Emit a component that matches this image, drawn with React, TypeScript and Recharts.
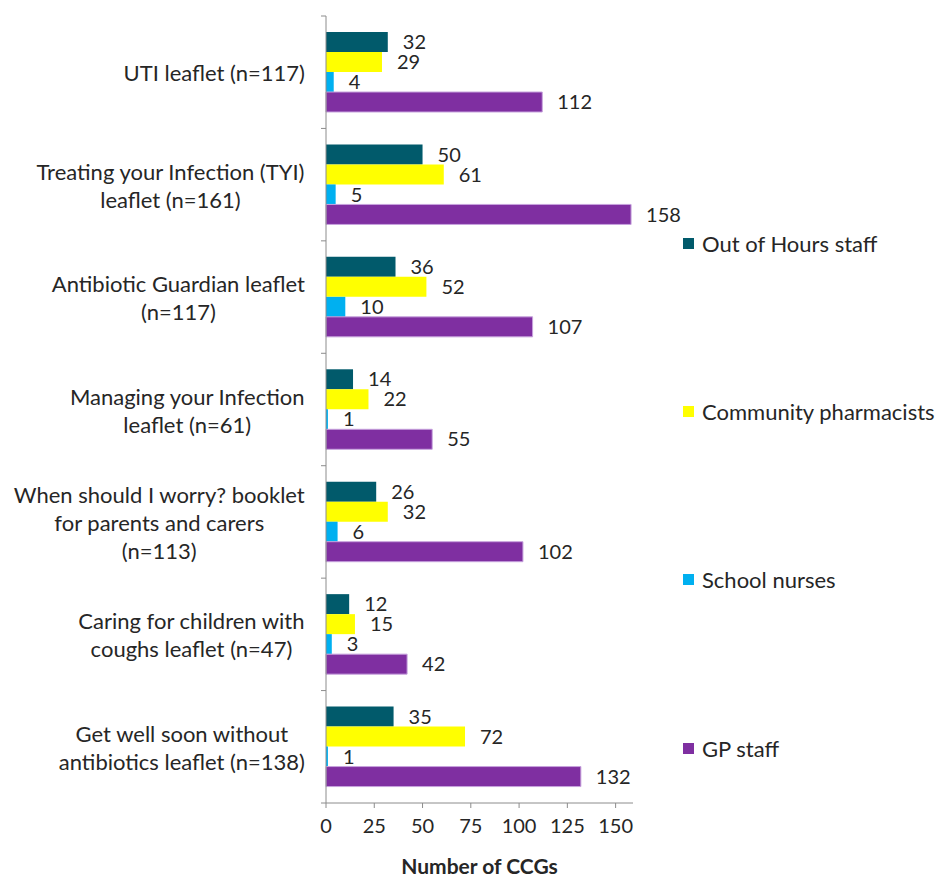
import React from 'react';
import { BarChart, Bar, XAxis, YAxis, LabelList } from 'recharts';

const categories = [
  'UTI leaflet (n=117)',
  'Treating your Infection (TYI)\nleaflet (n=161)',
  'Antibiotic Guardian leaflet\n(n=117)',
  'Managing your Infection\nleaflet (n=61)',
  'When should I worry? booklet\nfor parents and carers\n(n=113)',
  'Caring for children with\ncoughs leaflet (n=47)',
  'Get well soon without\nantibiotics leaflet (n=138)',
];
const outOfHours = [32, 50, 36, 14, 26, 12, 35];
const pharmacists = [29, 61, 52, 22, 32, 15, 72];
const schoolNurses = [4, 5, 10, 1, 6, 3, 1];
const gpStaff = [112, 158, 107, 55, 102, 42, 132];
const xTicks = [0, 25, 50, 75, 100, 125, 150];

const series = [
  { key: 'ooh', name: 'Out of Hours staff', color: '#015A6B', stroke: undefined as string | undefined },
  { key: 'pharm', name: 'Community pharmacists', color: '#FFFF00', stroke: undefined as string | undefined },
  { key: 'school', name: 'School nurses', color: '#00B0F0', stroke: undefined as string | undefined },
  { key: 'gp', name: 'GP staff', color: '#7F2FA1', stroke: '#C7A3DD' as string | undefined },
];

const data = categories.map((c, i) => ({
  name: c,
  ooh: outOfHours[i],
  pharm: pharmacists[i],
  school: schoolNurses[i],
  gp: gpStaff[i],
}));

const FONT = 'Lato, "Liberation Sans", sans-serif';
const FS = 22;
const NUM_FS = 20;
const TEXT = '#262626';
const AXIS = '#8c8c8c';
const PLOT_LEFT = 326;
const PLOT_TOP = 16;
const PLOT_BOTTOM = 803;
const BAND = (PLOT_BOTTOM - PLOT_TOP) / categories.length;
const LINE_H = 28;
const LABEL_RIGHT = 305;

let ctx: CanvasRenderingContext2D | null = null;
function measure(text: string): number {
  if (!ctx) {
    const c = document.createElement('canvas');
    ctx = c.getContext('2d');
  }
  if (!ctx) return text.length * FS * 0.45;
  ctx.font = `${FS}px ${FONT}`;
  return ctx.measureText(text).width;
}

const CategoryTick = (props: any) => {
  const { y, payload, index } = props;
  const lines: string[] = String(payload.value).split('\n');
  const maxW = Math.max(...lines.map(measure));
  const cx = LABEL_RIGHT - maxW / 2;
  const startY = y - ((lines.length - 1) * LINE_H) / 2;
  const top = y - BAND / 2;
  return (
    <g>
      <line x1={PLOT_LEFT - 5} x2={PLOT_LEFT} y1={top} y2={top} stroke={AXIS} />
      {index === categories.length - 1 && (
        <line x1={PLOT_LEFT - 5} x2={PLOT_LEFT} y1={top + BAND} y2={top + BAND} stroke={AXIS} />
      )}
      <text x={cx} y={startY} textAnchor="middle" fill={TEXT} fontSize={FS} fontFamily={FONT} dominantBaseline="central">
        {lines.map((l, i) => (
          <tspan key={i} x={cx} dy={i === 0 ? 0 : LINE_H}>
            {l}
          </tspan>
        ))}
      </text>
    </g>
  );
};

const labelStyle = { fill: TEXT, fontSize: NUM_FS, fontFamily: FONT };

export default function App() {
  return (
    <div style={{ position: 'absolute', left: 0, top: 0, width: 938, height: 876, background: '#fff' }}>
      <BarChart
        width={938}
        height={876}
        data={data}
        layout="vertical"
        margin={{ top: PLOT_TOP, right: 305, bottom: 0, left: 16 }}
        barSize={20}
        barGap={0}
      >
        <XAxis
          type="number"
          domain={[0, 159]}
          ticks={xTicks}
          interval={0}
          height={73}
          stroke={AXIS}
          tickSize={5}
          tickMargin={11}
          tick={{ fill: TEXT, fontSize: NUM_FS, fontFamily: FONT }}
          label={{
            value: 'Number of CCGs',
            position: 'insideBottom',
            offset: 2,
            fill: TEXT,
            fontSize: 21,
            fontWeight: 'bold',
            fontFamily: FONT,
          }}
        />
        <YAxis
          type="category"
          dataKey="name"
          width={310}
          stroke={AXIS}
          tickLine={false}
          interval={0}
          tick={<CategoryTick />}
        />
        {series.map((s) => (
          <Bar
            key={s.key}
            dataKey={s.key}
            name={s.name}
            fill={s.color}
            stroke={s.stroke}
            strokeWidth={s.stroke ? 1 : 0}
            isAnimationActive={false}
          >
            <LabelList dataKey={s.key} position="right" offset={15} style={labelStyle} />
          </Bar>
        ))}
      </BarChart>
      <div
        style={{
          position: 'absolute',
          left: 683,
          top: 159,
          width: 255,
          fontFamily: FONT,
          fontSize: FS,
          color: TEXT,
        }}
      >
        {series.map((s) => (
          <div key={s.key} style={{ height: 168.4, display: 'flex', alignItems: 'center' }}>
            <span style={{ display: 'inline-block', width: 11, height: 11, background: s.color, marginRight: 8, flex: 'none' }} />
            <span style={{ whiteSpace: 'nowrap' }}>{s.name}</span>
          </div>
        ))}
      </div>
    </div>
  );
}
